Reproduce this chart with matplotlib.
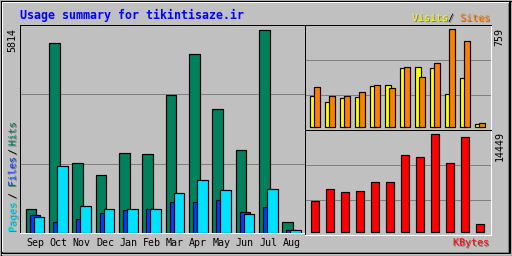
import numpy as np
import matplotlib
matplotlib.use('Agg')
import matplotlib.pyplot as plt
import matplotlib.patheffects as pe

# monthly summary values
months = ['Sep', 'Oct', 'Nov', 'Dec', 'Jan', 'Feb', 'Mar', 'Apr', 'May', 'Jun', 'Jul', 'Aug']
hits = [697, 5442, 2012, 1649, 2298, 2269, 3956, 5127, 3555, 2384, 5814, 326]
files = [506, 306, 392, 563, 649, 677, 877, 877, 935, 592, 735, 86]
pages = [449, 1906, 763, 677, 677, 677, 1135, 1526, 1220, 534, 1249, 72]
visits = [240, 196, 225, 232, 318, 325, 457, 465, 457, 256, 380, 23]
sites = [310, 240, 240, 273, 325, 302, 465, 387, 496, 759, 666, 31]
kbytes = [4571, 6340, 5898, 6045, 7372, 7372, 11353, 11058, 14449, 10173, 14007, 1180]

BG = '#C0C0C0'
GRID = '#808080'
C_HITS, C_FILES, C_PAGES = '#00805C', '#0040FF', '#00E0FF'
C_VISITS, C_SITES, C_KB = '#FFFF00', '#FF8000', '#FF0000'
LW = 0.72  # one pixel at 100 dpi
MONO = 'DejaVu Sans Mono'

W, H = 512, 256
fig = plt.figure(figsize=(W / 100, H / 100), dpi=100)
fig.patch.set_facecolor(BG)

# overlay in pixel coordinates for the frame and the labels
ov = fig.add_axes([0, 0, 1, 1], zorder=0)
ov.set_xlim(0, W)
ov.set_ylim(H, 0)
ov.axis('off')

# bevelled outer frame
ov.plot([0.5, 511.5, 511.5, 0.5, 0.5], [0.5, 0.5, 255.5, 255.5, 0.5], color='black', lw=LW * 1.2)
ov.plot([1.5, 1.5, 510], [254, 1.5, 1.5], color='white', lw=LW)
ov.plot([2, 509.5, 509.5], [253, 253, 2], color='black', lw=LW * 2)
ov.plot([3, 507.5, 507.5], [251.5, 251.5, 3], color=GRID, lw=LW)


def px_axes(x0, y0, x1, y1):
    return fig.add_axes([x0 / W, 1 - y1 / H, (x1 - x0) / W, (y1 - y0) / H], zorder=2)


def style(ax, ymin, ymax):
    ax.set_facecolor(BG)
    ax.set_ylim(ymin, ymax)
    span = ymax - ymin
    ax.set_yticks([ymin + span / 3, ymin + 2 * span / 3])
    ax.set_xticks([])
    ax.yaxis.grid(True, color=GRID, lw=LW)
    ax.tick_params(left=False, labelleft=False)
    ax.set_axisbelow(True)
    for s in ['left', 'top']:
        ax.spines[s].set_color('black')
    for s in ['right', 'bottom']:
        ax.spines[s].set_color('white')
    for s in ax.spines.values():
        s.set_linewidth(LW)


x = np.arange(len(months))
edge = dict(edgecolor='black', linewidth=0.85, align='edge')

# main chart: hits / files / pages
u = 23.33
ax = px_axes(20, 25, 304.5, 233)
ax.set_xlim(-15 / u, 269.5 / u)
style(ax, 0, max(hits) * 208 / 203.4)
ax.bar(x - 9.2 / u, hits, 10.4 / u, color=C_HITS, **edge)
ax.bar(x - 5.2 / u, files, 10.4 / u, color=C_FILES, **edge)
ax.bar(x - 1.2 / u, pages, 10.4 / u, color=C_PAGES, **edge)

# visits / sites
u2 = 15.0
ax2 = px_axes(305, 25, 490.5, 129.7)
ax2.set_xlim(-10 / u2, 175.5 / u2)
s2 = max(sites) / 98.0
style(ax2, -2.4 * s2, (104.7 - 2.4) * s2)
ax2.bar(x - 5.2 / u2, visits, 6.3 / u2, color=C_VISITS, **edge)
ax2.bar(x - 1.2 / u2, sites, 6.3 / u2, color=C_SITES, **edge)

# kbytes
ax3 = px_axes(305, 130, 490.5, 234.7)
ax3.set_xlim(-10 / u2, 175.5 / u2)
s3 = max(kbytes) / 98.0
style(ax3, -2.4 * s3, (104.7 - 2.4) * s3)
ax3.bar(x - 4.2 / u2, kbytes, 8.4 / u2, color=C_KB, **edge)

# text
shadow = [pe.withSimplePatchShadow(offset=(0.72, -0.72), shadow_rgbFace='#707070', alpha=1.0)]
ov.text(20, 19, 'Usage summary for tikintisaze.ir', color='#0000FF', fontsize=8.4,
        fontweight='bold', family=MONO, va='baseline', ha='left')

for i, m in enumerate(months):
    ov.text(35 + i * u, 246.5, m, fontsize=7.2, family=MONO, va='baseline', ha='center')

ov.text(12.5, 28, str(max(hits)), rotation=90, fontsize=7.2, family=MONO, va='top', ha='center')
ov.text(499, 28, str(max(sites)), rotation=90, fontsize=7.2, family=MONO, va='top', ha='center')
ov.text(500, 131, str(max(kbytes)), rotation=90, fontsize=7.2, family=MONO, va='top', ha='center')

# legend labels
ov.text(490, 21, 'Sites', color=C_SITES, fontsize=7.2, family=MONO, va='baseline', ha='right',
        path_effects=shadow)
ov.text(451, 21, '/', color='black', fontsize=7.2, family=MONO, va='baseline', ha='center',
        path_effects=shadow)
ov.text(448, 21, 'Visits', color=C_VISITS, fontsize=7.2, family=MONO, va='baseline', ha='right',
        path_effects=shadow)
ov.text(489, 245.5, 'KBytes', color=C_KB, fontsize=7.2, family=MONO, va='baseline', ha='right',
        path_effects=shadow)

vlab = [('Pages', C_PAGES, 232), ('/', 'black', 199), ('Files', C_FILES, 187),
        ('/', 'black', 155), ('Hits', C_HITS, 146)]
for txt, col, yb in vlab:
    ov.text(12.5, yb, txt, color=col, rotation=90, fontsize=7.2, family=MONO,
            va='bottom', ha='center', path_effects=shadow)

fig.savefig('out.png', dpi=100, facecolor=BG)
